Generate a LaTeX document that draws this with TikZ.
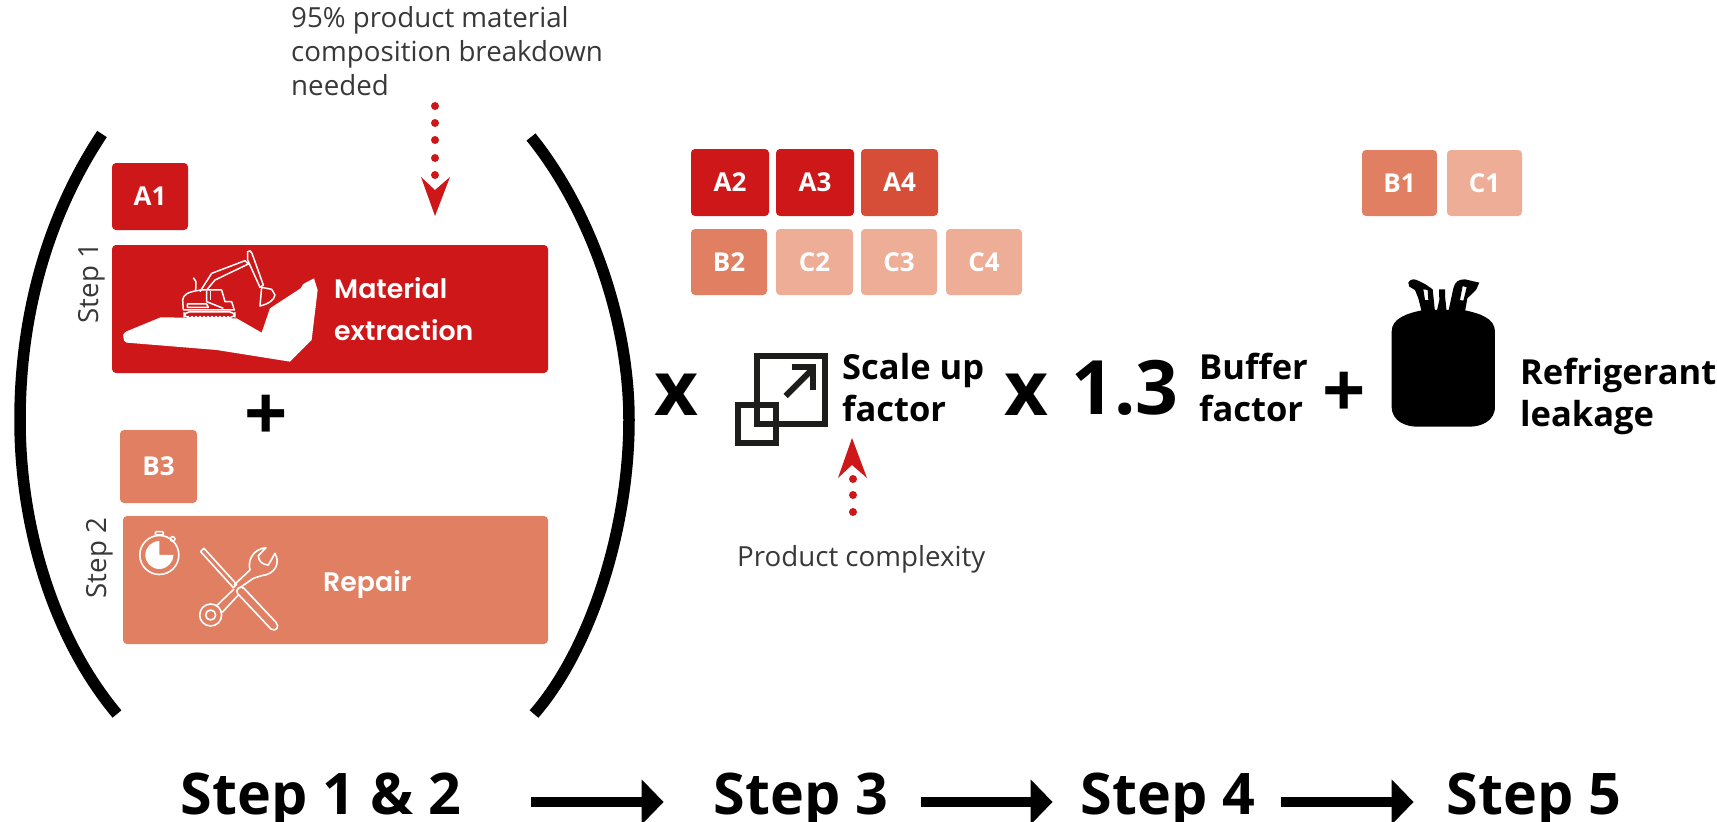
\documentclass[tikz,border=0pt]{standalone}
\usepackage{fontspec}
\setmainfont{Open Sans}
\newfontfamily\gothic{Poppins SemiBold}
\usetikzlibrary{arrows.meta}
\definecolor{redA}{HTML}{CD1719}
\definecolor{redM}{HTML}{D64E38}
\definecolor{redB}{HTML}{E17F62}
\definecolor{redC}{HTML}{EDAD97}
\definecolor{icon}{HTML}{1D1D1B}
\newcommand{\fs}[1]{\fontsize{#1}{#1}\selectfont}
\tikzset{
  paren/.style={line width=11.5pt,black,line cap=butt},
  badge/.style={text=white,font=\fs{26}\bfseries,anchor=center,inner sep=0pt},
  lbl/.style={anchor=base west,inner sep=0pt,font=\fs{34.5}\bfseries,align=left},
  thin txt/.style={anchor=base west,inner sep=0pt,font=\fs{27.7},text=black!78},
  opsym/.style={inner sep=0pt,font=\fs{76}\bfseries},
  steplbl/.style={anchor=base,inner sep=0pt,font=\fs{57.4}\bfseries},
  gothlbl/.style={anchor=base west,inner sep=0pt,text=white,font=\gothic\fs{26.8}},
  flow/.style={line width=10pt,-{Triangle[length=22pt,width=44pt]}},
  whiteline/.style={draw=white,line width=1.5pt,line join=round},
  whitefat/.style={draw=white,line width=1.6pt,line join=round},
  icn/.style={draw=icon,line width=6pt}
}
\newcommand{\bdg}[7]{\fill[#2] (#3,#4) [rounded corners=4pt] rectangle (#5,#6);
  \node[badge] (#1) at ({(#3+#5)/2},{(#4+#6)/2}) {#7};}
\begin{document}
\begin{tikzpicture}[x=1pt,y=-1pt]
\useasboundingbox (0,0) rectangle (1717,822);
% parentheses
\draw[paren] (102,134) .. controls (45,220) and (20,320) .. (20,420) .. controls (20,530) and (55,640) .. (117,714);
\draw[paren] (531,137) .. controls (590,210) and (629,320) .. (629,420) .. controls (629,530) and (590,650) .. (534,714);
% top note
\node[thin txt] (n1) at (291,27) {95\% product material};
\node[thin txt] (n2) at (291,61) {composition breakdown};
\node[thin txt] (n3) at (291,95) {needed};
% badges
\bdg{A1}{redA}{112}{163}{188}{230}{A1}
\bdg{A2}{redA}{691}{149}{769}{216}{A2}
\bdg{A3}{redA}{776}{149}{854}{216}{A3}
\bdg{A4}{redM}{861}{149}{938}{216}{A4}
\bdg{B2}{redB}{691}{229}{767}{295}{B2}
\bdg{C2}{redC}{776}{229}{853}{295}{C2}
\bdg{C3}{redC}{861}{229}{937}{295}{C3}
\bdg{C4}{redC}{946}{229}{1022}{295}{C4}
\bdg{B1}{redB}{1362}{150}{1437}{216}{B1}
\bdg{C1}{redC}{1447}{150}{1522}{216}{C1}
\bdg{B3}{redB}{120}{430}{197}{503}{B3}
% main boxes
\fill[redA,rounded corners=4pt] (112,245) rectangle (548,373);
\fill[redB,rounded corners=4pt] (123,516) rectangle (548,644);
% ground
\begin{scope}[shift={(90,150)},x=0.3333pt,y=-0.3333pt]
\fill[white] (100,562) .. controls (98,552) and (103,547) .. (110,544) -- (212,502) -- (285,503) -- (440,505) -- (515,548) -- (540,475) -- (632,415) -- (640,402) -- (672,385) -- (683,420) -- (665,570) -- (600,635) -- (380,600) -- (110,578) .. controls (104,577) and (100,570) .. (100,562) -- cycle;
\end{scope}
% excavator
\begin{scope}[shift={(180,250)},x=0.3333pt,y=-0.3333pt]
\draw[whiteline] (60,125) -- (95,70) -- (195,32) -- (205,42) -- (105,90) -- (80,120);
\draw[whiteline] (203,5) .. controls (208,0) and (213,2) .. (216,10) -- (250,105) -- (240,112) -- (203,30) -- cycle;
\draw[whiteline] (245,112) -- (275,118) -- (285,135) .. controls (283,150) and (265,162) .. (240,168) -- cycle;
\draw[whiteline] (65,120) -- (125,120) -- (135,155) -- (155,155) -- (163,180) -- (10,180) -- (8,150) .. controls (10,135) and (20,125) .. (65,120);
\draw[whiteline] (80,122) -- (80,155) -- (130,175);
\draw[whiteline] (92,122) -- (92,150);
\draw[whiteline] (22,162) -- (80,162) -- (85,172) -- (22,172) -- cycle;
\draw[whiteline] (47,122) -- (48,95) -- (40,83);
\draw[whiteline,rounded corners=5pt] (12,186) rectangle (165,203);
\draw[whiteline,dash pattern=on 2pt off 2pt] (22,199) -- (155,199);
\end{scope}
% stopwatch
\begin{scope}[shift={(90,420)},x=0.3333pt,y=-0.3333pt]
\draw[whitefat] (208,405) circle (19.5pt);
\fill[white] (208,405) -- (208,363) arc[start angle=90,delta angle=270,radius=14pt] -- cycle;
\draw[whitefat,rounded corners=1pt] (196,335) rectangle (220,345);
\draw[whitefat] (248,357) circle (2.3pt);
\end{scope}
% tools
\begin{scope}[shift={(190,535)},x=0.3333pt,y=-0.3333pt]
\draw[whitefat] (32,50) -- (42,40) -- (140,148) -- (130,158) -- cycle;
\draw[whitefat] (145,160) .. controls (150,154) and (155,155) .. (162,160) -- (258,262) .. controls (270,275) and (258,292) .. (243,282) -- (145,178) .. controls (138,170) and (140,165) .. (145,160);
\draw[whitefat] (132,150) -- (180,105) .. controls (172,75) and (190,42) .. (228,38) -- (205,62) .. controls (205,78) and (218,90) .. (235,90) -- (255,55) .. controls (272,85) and (255,118) .. (215,122) -- (190,130) -- (150,158);
\draw[whitefat] (132,162) -- (80,212);
\draw[whitefat] (145,180) -- (97,232);
\draw[whitefat] (62,240) circle (11pt);
\draw[whitefat] (62,240) circle (5pt);
\end{scope}
\node[gothlbl] (mat1) at (334,298) {Material};
\node[gothlbl] (mat2) at (334,340) {extraction};
\node[gothlbl] (rep) at (323,591) {Repair};
\node[thin txt,anchor=center,rotate=90] (s1) at (92,283) {Step 1};
\node[thin txt,anchor=center,rotate=90] (s2) at (100,558) {Step 2};
\node[opsym] (plus1) at (266,418) {+};
% dotted arrow top
\foreach \yy in {106,123,140,158,175} \fill[redA] (435,\yy) circle (4pt);
\fill[redA] (421,177) -- (435,190) -- (450,177) -- (435,216) -- cycle;
% operators
\node[opsym] (x1) at (676,395) {x};
\node[opsym] (x2) at (1026,395) {x};
% scale icon
\begin{scope}[shift={(720,340)},x=0.3333pt,y=-0.3333pt]
\draw[icn] (112,47) rectangle (316,251);
\draw[icn] (55,196) rectangle (168,308);
\draw[icn] (197,168) -- (275,90);
\draw[icn] (215,82) -- (280,82) -- (280,150);
\end{scope}
\node[lbl] (sc1) at (842,379) {Scale up};
\node[lbl] (sc2) at (842,421) {factor};
\fill[redA] (852,438) -- (838,478) -- (852,465) -- (867,478) -- cycle;
\foreach \yy in {479,495,512} \fill[redA] (853,\yy) circle (4pt);
\node[thin txt] (pc) at (737,566) {Product complexity};
\node[anchor=base west,inner sep=0pt,font=\fs{75}\bfseries] (num) at (1071,414) {1.3};
\node[lbl] (bf1) at (1199,379) {Buffer};
\node[lbl] (bf2) at (1199,421) {factor};
\node[opsym] (plus2) at (1344,395) {+};
% cylinder
\begin{scope}[shift={(1340,260)},x=0.3333pt,y=-0.3333pt]
\fill[black] (155,215) .. controls (155,175) and (200,160) .. (250,150) -- (370,150) .. controls (420,160) and (465,175) .. (465,215) -- (465,440) .. controls (465,485) and (420,500) .. (390,500) -- (230,500) .. controls (200,500) and (155,485) .. (155,440) -- cycle;
\end{scope}
\begin{scope}[shift={(1400,270)},x=0.3333pt,y=-0.3333pt]
\fill[black,even odd rule] (25,38) .. controls (30,28) and (40,26) .. (50,30) -- (75,42) -- (98,58) -- (105,125) -- (65,125) -- (55,85) -- (45,60) -- (28,50) -- cycle (70,58) -- (83,60) -- (85,90) -- (75,90) -- cycle;
\fill[black,even odd rule] (238,38) -- (195,28) .. controls (175,28) and (165,35) .. (160,55) -- (145,125) -- (195,125) -- (202,85) -- (228,60) -- cycle (188,48) -- (200,52) -- (190,92) -- (180,90) -- cycle;
\fill[black] (117,58) -- (135,58) -- (135,78) -- (140,125) -- (110,125) -- (118,90) -- cycle;
\end{scope}
\node[lbl] (rf1) at (1520,384) {Refrigerant};
\node[lbl] (rf2) at (1520,426) {leakage};
% bottom
\node[steplbl] (st12) at (321,814) {Step 1 \& 2};
\node[steplbl] (st3) at (801,814) {Step 3};
\node[steplbl] (st4) at (1168,814) {Step 4};
\node[steplbl] (st5) at (1534,814) {Step 5};
\draw[flow] ([xshift=70pt]st12.east|-0,802) -- ([xshift=-50pt]st3.west|-0,802);
\draw[flow] ([xshift=33pt]st3.east|-0,802) -- ([xshift=-28pt]st4.west|-0,802);
\draw[flow] ([xshift=26pt]st4.east|-0,802) -- ([xshift=-33pt]st5.west|-0,802);
\end{tikzpicture}
\end{document}
